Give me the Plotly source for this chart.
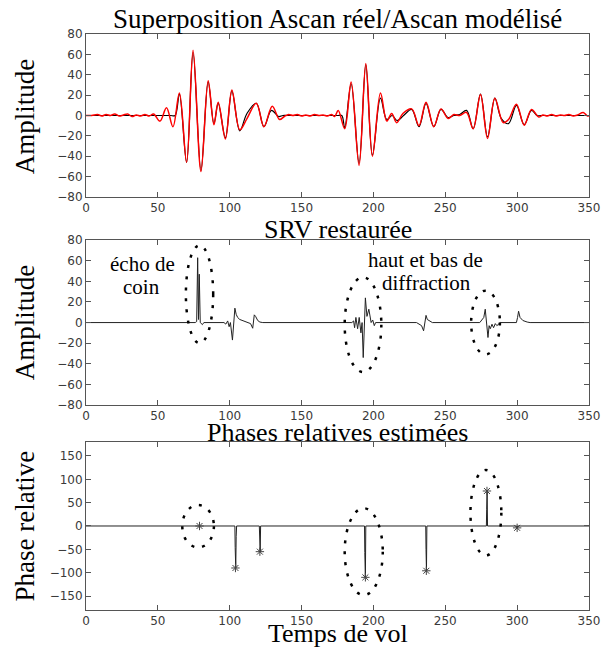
import plotly.graph_objects as go
from plotly.subplots import make_subplots

# ---- Ascan réel (rouge, bruité) : extrema ----
t_reel = [0, 4, 8, 11, 14, 17, 20, 23, 26, 29, 32, 35, 38, 41, 44, 47,
          51.5, 56, 60.5, 65, 70, 74.5, 80, 85, 89, 92, 97, 101.5, 107, 112,
          118.5, 123.8, 129.6, 134.7, 138, 141, 144, 147, 150, 153, 156, 159,
          162, 165, 168, 171, 173, 175.5, 180, 184.5, 190, 194.7, 199.3, 204.9,
          209.3, 212.7, 216.2, 220.5, 226.6, 231.7, 236.6, 242, 247, 252, 256,
          260, 264.8, 269.4, 274.5, 279.4, 284.5, 290.3, 294, 299.5, 304.9,
          310, 315, 318, 321, 324, 327, 330, 333, 336, 339, 342, 346, 349, 350]
a_reel = [0, 0, 1, -0.5, 1, 0, 1.5, -0.5, 0.5, 1.5, -1, 0.5, -0.5, 1, -0.5, 1.5,
          -5.5, 7.5, -11, 22, -46, 64, -55, 34, -9, 13, -23, 25, -14, -3,
          12, -11, 9, -4, -1, 1, 0, 1, -0.5, 0.5, -0.5, 1,
          0, 0.5, -0.5, 1, -1, 5, -13, 33, -49, 51, -40, 22,
          -5.5, 2, -7, 2, 6.5, -10, 13, -11, 6.5, -3, 1,
          0, 3, -13, 20.5, -22.5, 17, -7, -4, 11, -9.5,
          6, -1.5, 0.5, -0.5, 1, -0.5, 0.5, 0, 1, -0.5, 0.5, 3, -0.5, 0]

# ---- Ascan modélisé (noir) ----
t_mod = [0, 20, 40, 55, 59, 62, 65, 70, 74.5, 80, 85, 89, 92, 97, 101.5, 107,
         112, 118.5, 123.8, 129, 134, 137, 140, 150, 160, 170, 175, 178, 180,
         184.5, 190, 194.7, 199.3, 204.9, 209.3, 213, 216.5, 221, 226.6, 231.7,
         236.6, 242, 247, 252, 256, 260, 264.8, 269.4, 274.5, 279.4, 284.5,
         289, 294, 299.5, 304.9, 310, 314, 318, 330, 350]
a_mod = [0, 0, 0, 0, 0, 0, 21, -46, 62, -54, 33, -8, 12, -22, 24, -15,
         2, 12, -11, 5, -1, 0, 0, 0, 0, 0, 0, 0, -12,
         31, -47, 50, -39, 17, -4, 0, -5, 0, 6, -11,
         12, -11, 6, -2, 0, 1, 5, -13, 21, -21, 17,
         -3, -8, 10, -9, 5, 0, 0, 0, 0]

# ---- SRV restaurée ----
t_srv = [0, 76, 77, 77.7, 78.3, 78.8, 79.5, 81, 82,
         96, 97.3, 98.6, 99.6, 100.5, 101.9, 102.8, 103.6, 104.5, 105.5, 107,
         109, 111, 113, 114.5, 116, 116.6, 117.1, 118, 119.5, 121, 123,
         185, 186.2, 186.9, 187.8, 189, 190.1, 191.3, 192.1, 192.9, 193.7,
         194.4, 195.5, 196.8, 198.4, 199.5, 200.6, 201.5,
         230, 231.5, 233.5, 234.9, 235.8, 236.6, 237.5, 239.4, 241,
         274, 275.5, 276.8, 277.8, 278.8, 279.7, 280.5, 281.3, 282.5, 283.6,
         284.8, 285.9, 288.2,
         299.5, 300.3, 301, 302, 304, 307, 309, 350]
a_srv = [0, 0, 1, 63, 3, 47, 0, -2, 0,
         0, -1.5, 1.6, -4, 0, -17, 2, 14, 8, 5, 3,
         2, 1, 0.5, -1, -5.5, 1, 7.5, 6, 2, 0.5, 0,
         0, 1.6, -5, 5, -6, 5, -10, 0, -34, -2,
         24, 6, 13, 0, 2.5, -3, 0,
         0, -1, -3, -8, 3, 7, 3, 1, 0,
         0, 3, 5, 13, 0, -14.5, -3, -6, -1.6, -5,
         -1, -3, 0,
         0, 5, 11, 5, 2, 0.5, 0, 0]

# ---- Phases relatives estimées ----
t_phase = [0, 103.6, 103.8, 104.2, 104.5, 104.8, 120.6, 120.8, 121.2, 121.5,
           193.8, 194.0, 194.4, 194.7, 236.4, 236.6, 236.9, 237.2,
           278.6, 278.8, 279.1, 279.4, 299.6, 300, 300.4, 350]
phase = [0, 0, -46, -90, -22, 0, 0, -30, -55, 0,
         0, -57, -110, 0, 0, -50, -96, 0,
         0, 36, 75, 0, 0, -4, 0, 0]
t_star = [79, 104, 121, 194.4, 236.8, 279, 300]
phase_star = [0, -90, -55, -110, -96, 75, -4]

# ellipses pointillées [x0, x1, y0, y1]
ell_srv = [[69.5, 88.5, -20, 75], [180, 205.5, -48, 44], [268, 288, -31, 31]]
ell_phase = [[67, 89, -46, 45], [180, 206.5, -148, 38], [267.5, 289, -63, 120]]

serif = "Liberation Serif"
tick_font = dict(family="DejaVu Sans", size=12, color="#3a3a3a")

fig = make_subplots(rows=3, cols=1)

fig.add_trace(go.Scatter(x=t_mod, y=a_mod, mode="lines", line_shape="spline",
                         line=dict(color="black", width=1.2, smoothing=1)), row=1, col=1)
fig.add_trace(go.Scatter(x=t_reel, y=a_reel, mode="lines", line_shape="spline",
                         line=dict(color="#ff0000", width=1.5, smoothing=1)), row=1, col=1)
fig.add_trace(go.Scatter(x=t_srv, y=a_srv, mode="lines",
                         line=dict(color="#222222", width=1)), row=2, col=1)
fig.add_trace(go.Scatter(x=t_phase, y=phase, mode="lines",
                         line=dict(color="#222222", width=1)), row=3, col=1)
fig.add_trace(go.Scatter(x=t_star, y=phase_star, mode="markers",
                         marker=dict(symbol="asterisk-open", size=7, color="#444444",
                                     line=dict(color="#444444", width=1))), row=3, col=1)

for (x0, x1, y0, y1) in ell_srv:
    fig.add_shape(type="circle", xref="x2", yref="y2", x0=x0, x1=x1, y0=y0, y1=y1,
                  line=dict(color="black", width=2.5, dash="3px,8px"))
for (x0, x1, y0, y1) in ell_phase:
    fig.add_shape(type="circle", xref="x3", yref="y3", x0=x0, x1=x1, y0=y0, y1=y1,
                  line=dict(color="black", width=2.5, dash="3px,8px"))

axis_common = dict(showgrid=False, zeroline=False, showline=True, linecolor="#555555",
                   linewidth=1, mirror="ticks", ticks="inside", ticklen=5,
                   tickcolor="#555555", tickfont=tick_font)

# domaines (en fraction du papier)
fig.update_xaxes(range=[0, 350], tickvals=[0, 50, 100, 150, 200, 250, 300, 350],
                 **axis_common)
fig.update_yaxes(**axis_common)
fig.update_yaxes(range=[-80, 80], dtick=20, domain=[0.717, 1.0], row=1, col=1)
fig.update_yaxes(range=[-80, 80], dtick=20, domain=[0.356, 0.642], row=2, col=1)
fig.update_yaxes(range=[-180, 180], tickvals=[-150, -100, -50, 0, 50, 100, 150],
                 domain=[0.0, 0.2917], row=3, col=1)

annots = [
    dict(text="Superposition Ascan réel/Ascan modélisé", y=1.026, size=27),
    dict(text="SRV restaurée", y=0.661, size=26),
    dict(text="Phases relatives estimées", y=0.309, size=26),
    dict(text="Temps de vol", y=-0.041, size=26),
]
for a in annots:
    fig.add_annotation(text=a["text"], x=0.5, y=a["y"], xref="paper", yref="paper",
                       xanchor="center", yanchor="middle", showarrow=False,
                       font=dict(family=serif, size=a["size"], color="black"))

for txt, yc in [("Amplitude", 0.8567), ("Amplitude", 0.499), ("Phase relative", 0.146)]:
    fig.add_annotation(text=txt, x=-0.122, y=yc, xref="paper", yref="paper",
                       textangle=-90, xanchor="center", yanchor="middle", showarrow=False,
                       font=dict(family=serif, size=27, color="black"))

for txt, xv, yv in [("écho de", 39, 57), ("coin", 38.5, 35),
                    ("haut et bas de", 236, 61), ("diffraction", 237, 38)]:
    fig.add_annotation(text=txt, x=xv, y=yv, xref="x2", yref="y2", showarrow=False,
                       font=dict(family=serif, size=21, color="black"))

fig.update_layout(width=605, height=644, showlegend=False,
                  paper_bgcolor="white", plot_bgcolor="white",
                  margin=dict(l=78, r=24, t=26, b=42))

fig.write_html("out.html")
